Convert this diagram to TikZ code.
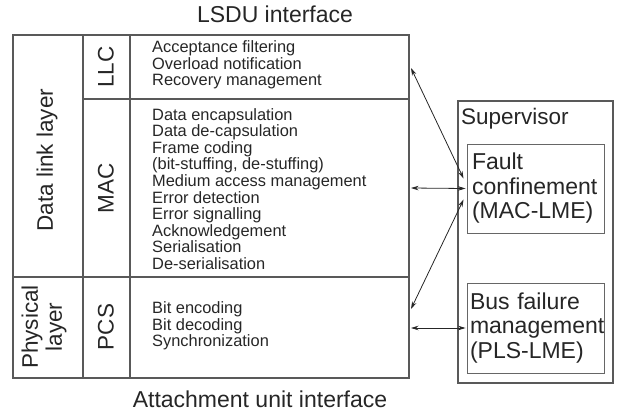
\documentclass[tikz,border=0pt]{standalone}
\usepackage{fontspec}
\setmainfont{Liberation Sans}
\usetikzlibrary{arrows.meta}
\begin{document}
\begin{tikzpicture}[x=1pt,y=-1pt,
    frame/.style={draw=black!65, line width=1.1pt},
    inbox/.style={draw=black!60, line width=0.9pt, align=left, font=\fontsize{23}{24.5}\selectfont, text=black!85},
    biglabel/.style={font=\fontsize{22.5}{24}\selectfont, text=black!85, inner sep=0pt, align=center},
    iface/.style={font=\fontsize{23}{24}\selectfont, text=black!85, inner sep=0pt},
    duty/.style={font=\fontsize{16.4}{16.6}\selectfont, text=black!85, inner sep=0pt, align=left, anchor=west},
    link/.style={{Stealth[length=7.5pt,width=4.5pt]}-{Stealth[length=7.5pt,width=4.5pt]}, line width=0.8pt, black!85}]
  \useasboundingbox (0,0) rectangle (627,416);
  % protocol stack
  \draw[frame] (13,35) rectangle (409,378);
  \draw[frame] (83,35) -- (83,378) (130,35) -- (130,378);
  \draw[frame] (83,99) -- (409,99) (13,277) -- (409,277);
  \node[iface] (lsdu) at (275,14) {LSDU interface};
  \node[iface] (aui) at (260,399) {Attachment unit interface};
  \node[biglabel, rotate=90] (dll) at (47,160) {Data link layer};
  \node[biglabel, rotate=90] (phy) at (44,327) {Physical\\layer};
  \node[biglabel, rotate=90] (llc) at (106,67) {LLC};
  \node[biglabel, rotate=90] (mac) at (106,188) {MAC};
  \node[biglabel, rotate=90] (pcs) at (106,327) {PCS};
  \node[duty] (llcjobs) at (152,65) {Acceptance filtering\\Overload notification\\Recovery management};
  \node[duty] (macjobs) at (152,189) {Data encapsulation\\Data de-capsulation\\Frame coding\\(bit-stuffing, de-stuffing)\\Medium access management\\Error detection\\Error signalling\\Acknowledgement\\Serialisation\\De-serialisation};
  \node[duty] (pcsjobs) at (152,326) {Bit encoding\\Bit decoding\\Synchronization};
  % supervisor
  \node[frame, minimum width=155pt, minimum height=282pt, inner sep=0pt] (super) at (535.5,242) {};
  \node[biglabel, anchor=west] (suplabel) at (461,119) {Supervisor};
  \node[inbox, minimum width=137pt, minimum height=89pt, text width=127pt, inner xsep=5pt] (fault) at (535.5,188.5) {Fault\\confinement\\(MAC-LME)};
  \node[inbox, minimum width=137pt, minimum height=90pt, text width=131pt, inner xsep=3pt] (bus) at (535.5,328) {Bus failure\\management\\(PLS-LME)};
  % ports
  \coordinate (llcport) at (411,68);
  \coordinate (macport) at (411,188);
  \coordinate (pcsport) at (411,309);
  \coordinate (busport) at (411,328);
  \draw[link] (llcport) -- ([xshift=-3pt,yshift=10pt]fault.west);
  \draw[link] (macport) -- ([xshift=-1pt]fault.west);
  \draw[link] ([xshift=-3pt,yshift=-11pt]fault.west) -- (pcsport);
  \draw[link] (busport) -- ([xshift=-1pt]bus.west);
\end{tikzpicture}
\end{document}
